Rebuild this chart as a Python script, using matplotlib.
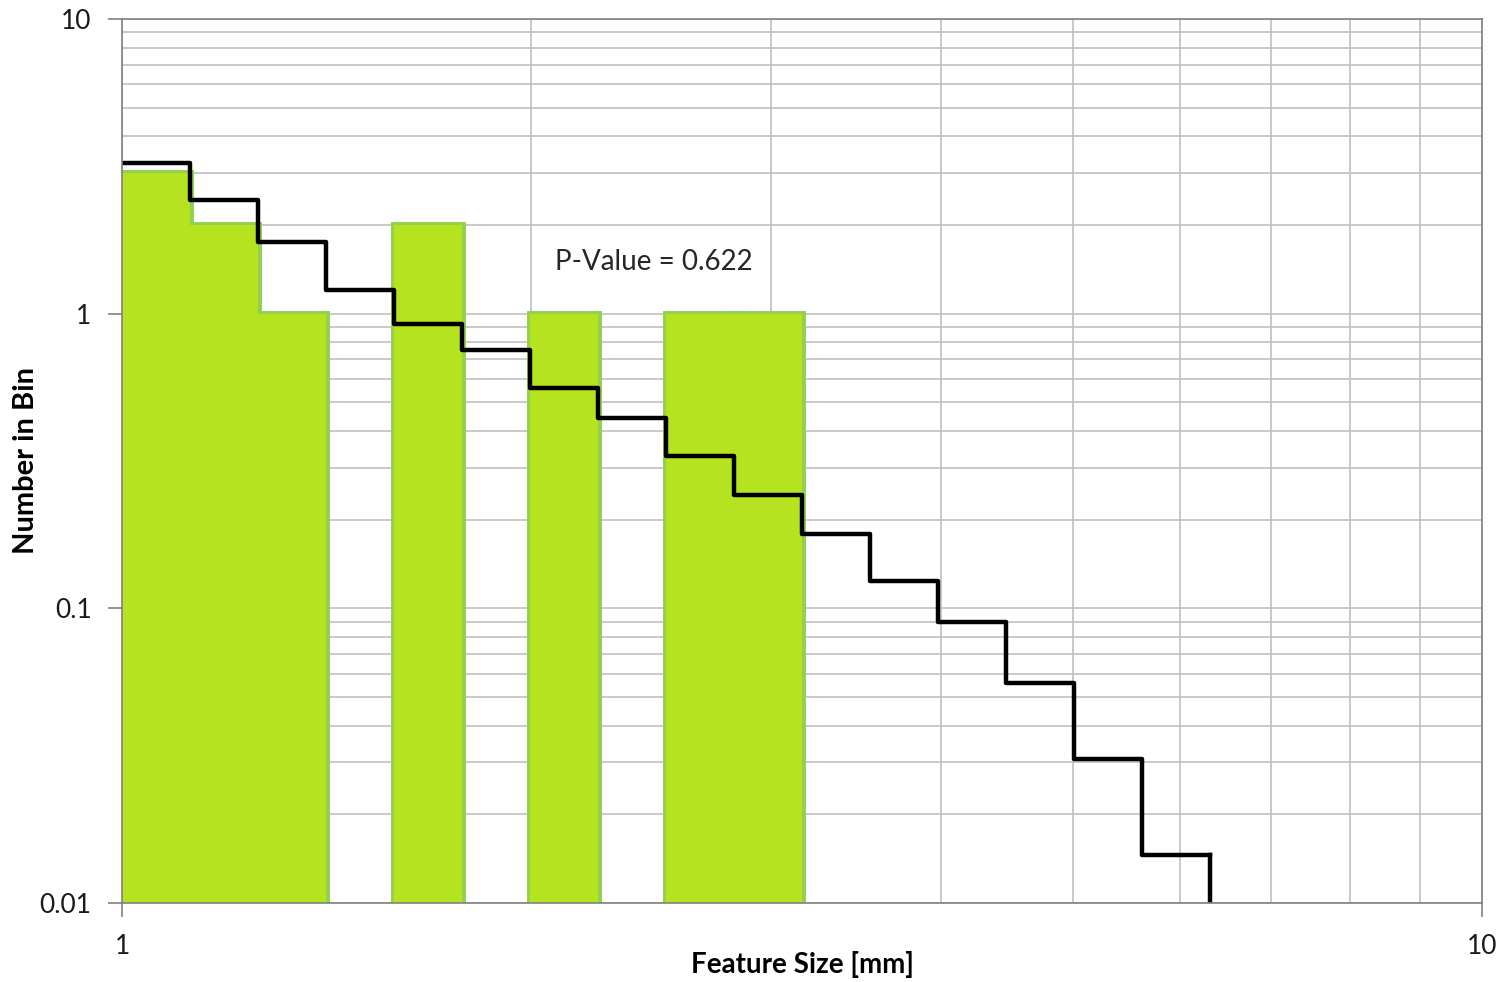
import numpy as np
import matplotlib
matplotlib.use("Agg")
import matplotlib.pyplot as plt
from matplotlib.ticker import LogLocator, NullFormatter, FixedLocator, FixedFormatter

plt.rcParams['font.family'] = ['Lato', 'DejaVu Sans']

# bin edges (0.05 decade wide bins starting at 1 mm)
bin_edges = [1.0, 1.122, 1.259, 1.413, 1.585, 1.778, 1.995, 2.239, 2.512,
             2.818, 3.162, 3.548, 3.981, 4.467, 5.012, 5.623, 6.310]
# observed counts per bin (bars)
counts = [3, 2, 1, 0, 2, 0, 1, 0, 1, 1]
# expected counts per bin (step line)
expected = [3.25, 2.43, 1.75, 1.20, 0.925, 0.755, 0.561, 0.443, 0.330,
            0.243, 0.179, 0.124, 0.090, 0.0557, 0.0308, 0.0146]
p_value = 0.622

fig = plt.figure(figsize=(15.07, 9.82), dpi=100)
ax = fig.add_axes([0.081, 0.0804, 0.9023, 0.9003])

ax.set_xscale('log')
ax.set_yscale('log')
ax.set_xlim(1, 10)
ax.set_ylim(0.01, 10)

# grid
ax.grid(which='both', color='#c0c0c0', linewidth=1.2)
ax.set_axisbelow(True)

# bars: outline pass, then fill pass so neighbouring bars merge
lefts = bin_edges[:len(counts)]
widths = [bin_edges[i + 1] - bin_edges[i] for i in range(len(counts))]
heights = [c if c > 0 else np.nan for c in counts]
ax.bar(lefts, heights, width=widths, align='edge', bottom=0.001,
       color='#b5e31f', edgecolor='#92d050', linewidth=5, zorder=2)
ax.bar(lefts, heights, width=widths, align='edge', bottom=0.001,
       color='#b5e31f', linewidth=0, zorder=2.1)

# step line
xs = bin_edges
ys = expected + [expected[-1]]
ax.step(xs, ys, where='post', color='black', linewidth=3.2, zorder=3)
ax.plot([bin_edges[-1], bin_edges[-1]], [expected[-1], 0.005],
        color='black', linewidth=3.2, zorder=3)

ax.text(2.08, 1.5, f"P-Value = {p_value}", fontsize=20, va='center',
        ha='left', color='#262626')

# ticks
ax.xaxis.set_major_locator(FixedLocator([1, 10]))
ax.xaxis.set_major_formatter(FixedFormatter(['1', '10']))
ax.xaxis.set_minor_locator(LogLocator(base=10, subs=np.arange(2, 10)))
ax.xaxis.set_minor_formatter(NullFormatter())
ax.yaxis.set_major_locator(FixedLocator([0.01, 0.1, 1, 10]))
ax.yaxis.set_major_formatter(FixedFormatter(['0.01', '0.1', '1', '10']))
ax.yaxis.set_minor_locator(LogLocator(base=10, subs=np.arange(2, 10)))
ax.yaxis.set_minor_formatter(NullFormatter())

ax.tick_params(which='major', direction='out', length=10, width=1.2,
               color='#808080', labelsize=19, labelcolor='#1a1a1a')
ax.tick_params(which='minor', length=0)
ax.tick_params(axis='x', pad=12)
ax.tick_params(axis='y', pad=12)

for s in ax.spines.values():
    s.set_color('#808080')
    s.set_linewidth(1.2)
    s.set_zorder(4)

ax.set_xlabel('Feature Size [mm]', fontsize=20, fontweight='bold', va='center')
ax.set_ylabel('Number in Bin', fontsize=21, fontweight='bold', va='center')
ax.xaxis.set_label_coords(0.5, -0.070)
ax.yaxis.set_label_coords(-0.0705, 0.5)

fig.savefig('out.png', dpi=100)
